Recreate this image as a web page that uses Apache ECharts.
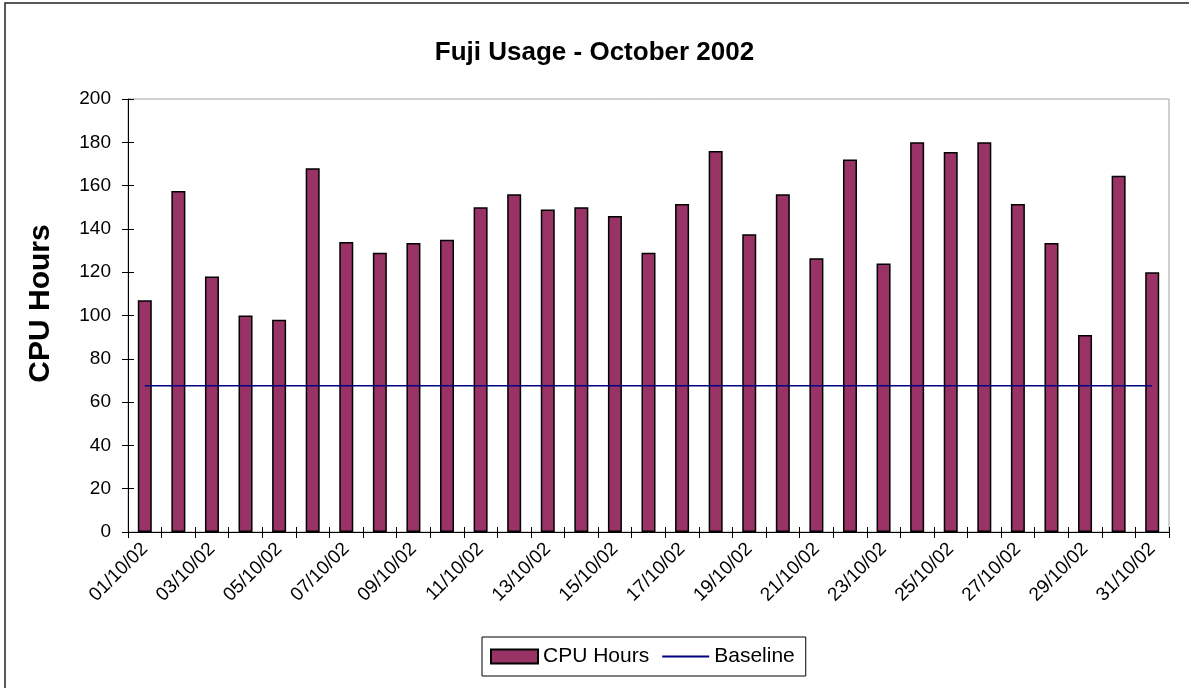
<!DOCTYPE html>
<html>
<head>
<meta charset="utf-8">
<title>Fuji Usage - October 2002</title>
<script src="https://cdn.jsdelivr.net/npm/echarts@6/dist/echarts.min.js"></script>
<style>
  html, body { margin: 0; padding: 0; background: #fff; }
  #chart { width: 1189px; height: 688px; }
</style>
</head>
<body>
<div id="chart"></div>
<script>
// days of October 2002
const days = [
  "01/10/02", "02/10/02", "03/10/02", "04/10/02", "05/10/02", "06/10/02", "07/10/02", "08/10/02",
  "09/10/02", "10/10/02", "11/10/02", "12/10/02", "13/10/02", "14/10/02", "15/10/02", "16/10/02",
  "17/10/02", "18/10/02", "19/10/02", "20/10/02", "21/10/02", "22/10/02", "23/10/02", "24/10/02",
  "25/10/02", "26/10/02", "27/10/02", "28/10/02", "29/10/02", "30/10/02", "31/10/02"
];
const cpuHours = [
  107, 157.5, 118, 100, 98, 168, 134, 129, 133.5, 135, 150,
  156, 149, 150, 146, 129, 151.5, 176, 137.5, 156, 126.5,
  172, 124, 180, 175.5, 180, 151.5, 133.5, 91, 164.5, 120
];
const baseline = [
  67.5, 67.5, 67.5, 67.5, 67.5, 67.5, 67.5, 67.5, 67.5, 67.5, 67.5,
  67.5, 67.5, 67.5, 67.5, 67.5, 67.5, 67.5, 67.5, 67.5, 67.5,
  67.5, 67.5, 67.5, 67.5, 67.5, 67.5, 67.5, 67.5, 67.5, 67.5
];

const font = "'Liberation Sans', Arial, sans-serif";
const chart = echarts.init(document.getElementById("chart"));

const option = {
  backgroundColor: "#fff",
  animation: false,
  textStyle: { fontFamily: font, color: "#000" },
  title: {
    text: "Fuji Usage - October 2002",
    left: "center",
    top: 35,
    textStyle: { fontFamily: font, fontSize: 26, fontWeight: "bold", color: "#000" },
  },
  // outer frame of the chart
  graphic: [
    {
      type: "rect",
      shape: { x: 5, y: 3, width: 1200, height: 700 },
      style: { fill: "none", stroke: "#222", lineWidth: 1.5 },
      silent: true,
    },
  ],
  legend: {
    left: 482,
    top: 637,
    orient: "horizontal",
    borderColor: "#000",
    borderWidth: 1,
    padding: [9, 11, 9, 8],
    itemWidth: 47,
    itemHeight: 14,
    itemGap: 12,
    textStyle: { fontFamily: font, fontSize: 21, color: "#000" },
    data: [
      { name: "CPU Hours", icon: "rect" },
      { name: "Baseline", itemStyle: { color: "rgba(0,0,0,0)", borderColor: "rgba(0,0,0,0)", borderWidth: 0 } },
    ],
  },
  grid: {
    left: 128,
    right: 20,
    top: 99,
    bottom: 156,
    show: true,
    borderColor: "#a0a0a0",
    borderWidth: 1,
  },
  xAxis: [
    {
      type: "category",
      data: days,
      boundaryGap: true,
      axisLine: { lineStyle: { color: "#000", width: 1 } },
      axisTick: { show: true, interval: 0, inside: false, length: 6, lineStyle: { color: "#000" } },
      axisLabel: {
        interval: 1,
        rotate: 45,
        margin: 14,
        fontFamily: font,
        fontSize: 19,
        color: "#000",
      },
      splitLine: { show: false },
    },
    {
      type: "category",
      data: days,
      position: "bottom",
      boundaryGap: true,
      axisLine: { show: false },
      axisTick: { show: true, interval: 0, inside: true, length: 5, lineStyle: { color: "#000" } },
      axisLabel: { show: false },
      splitLine: { show: false },
    },
  ],
  yAxis: [
    {
      type: "value",
      min: 0,
      max: 200,
      interval: 20,
      name: "CPU Hours",
      nameLocation: "middle",
      nameGap: 72,
      nameTextStyle: {
        fontFamily: font,
        fontSize: 30,
        fontWeight: "bold",
        color: "#000",
        padding: [0, 0, 0, 24],
      },
      axisLine: { show: true, lineStyle: { color: "#000", width: 1 } },
      axisTick: { show: true, inside: false, length: 6, lineStyle: { color: "#000" } },
      axisLabel: { margin: 17, fontFamily: font, fontSize: 19, color: "#000" },
      splitLine: { show: false },
    },
    {
      type: "value",
      min: 0,
      max: 200,
      interval: 20,
      position: "left",
      axisLine: { show: false },
      axisTick: { show: true, inside: true, length: 6, lineStyle: { color: "#000" } },
      axisLabel: { show: false },
      splitLine: { show: false },
    },
  ],
  series: [
    {
      name: "CPU Hours",
      type: "bar",
      data: cpuHours,
      barWidth: 14,
      itemStyle: { color: "#993366", borderColor: "#000", borderWidth: 1.5 },
    },
    {
      name: "Baseline",
      type: "line",
      data: baseline,
      symbol: "none",
      showSymbol: false,
      lineStyle: { color: "#000080", width: 1.5 },
      itemStyle: { color: "#000080" },
      z: 3,
    },
  ],
};

chart.setOption(option);
</script>
</body>
</html>
